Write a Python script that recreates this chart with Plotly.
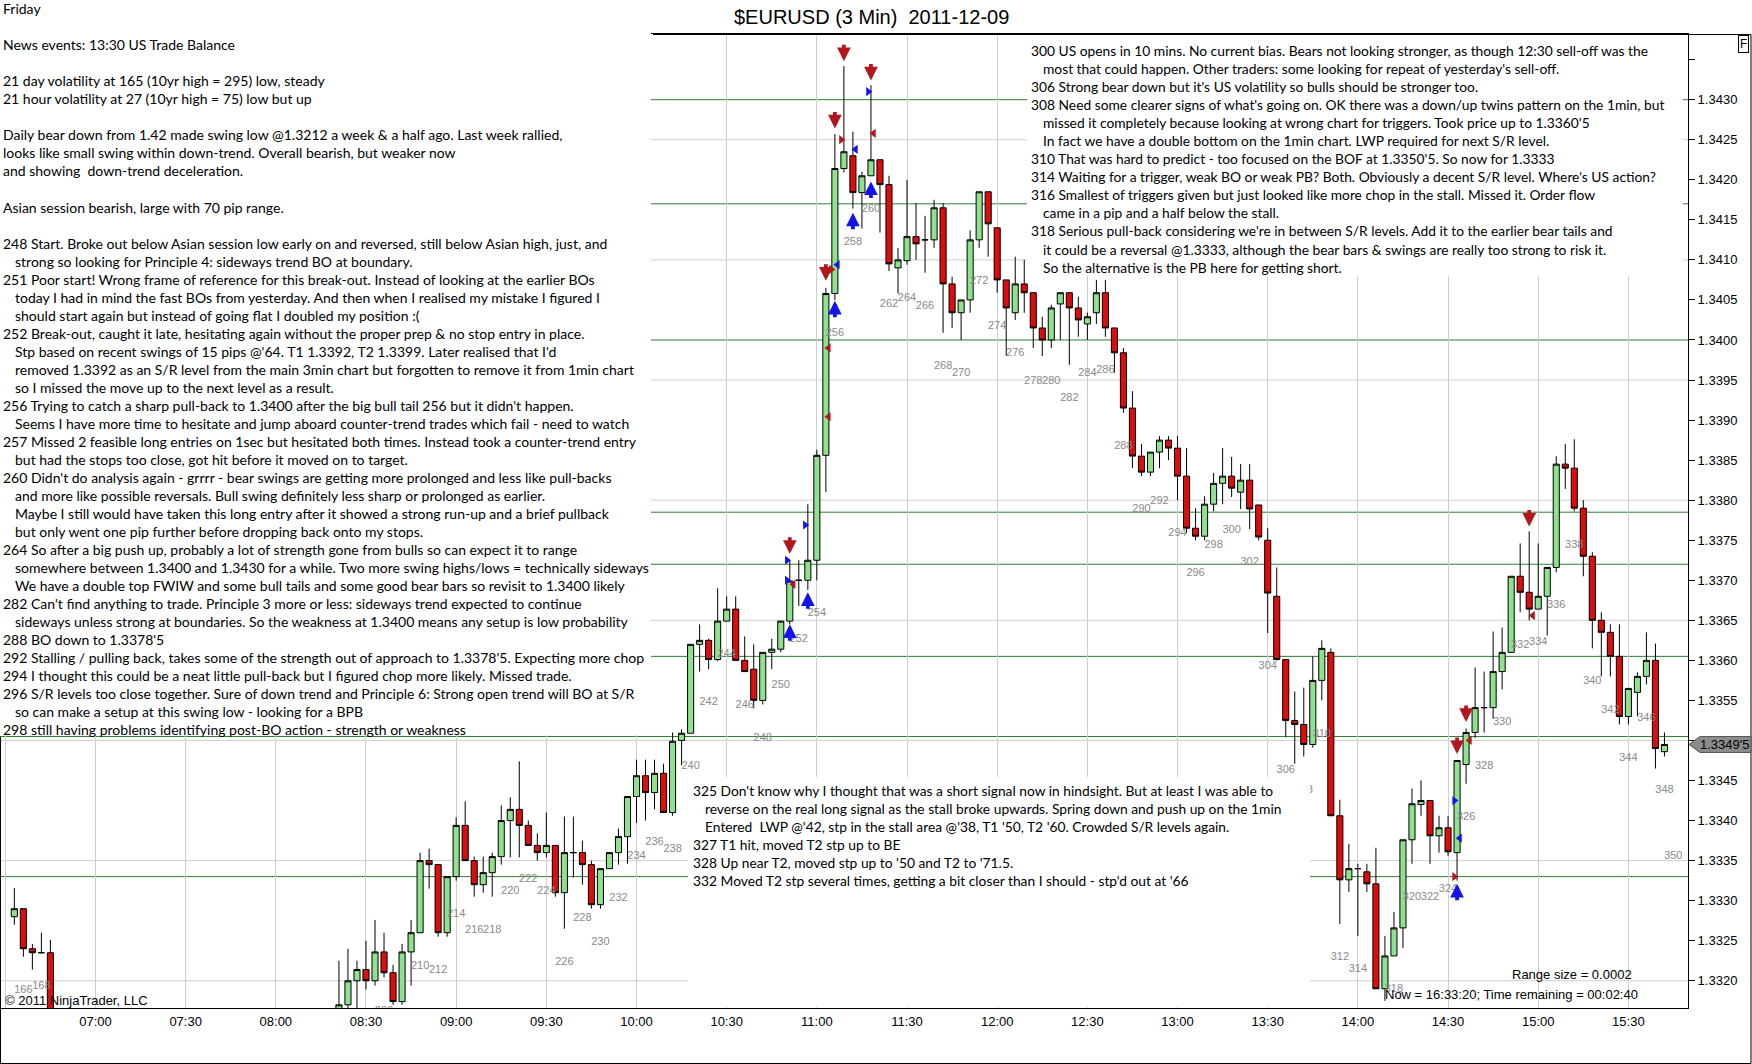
import plotly.graph_objects as go
import pandas as pd

# ---------------- data ----------------
FIRST_BAR = 165
GAP = [None] * 31   # bars 170-200 traded below the visible price window

bar_open = [1.3328, 1.3329, 1.3324, 1.33235, 1.33235] + GAP + [
    1.3315, 1.3317, 1.3320, 1.33214, 1.3320, 1.33236, 1.3321, 1.33174, 1.33236, 1.3326,
    1.3335, 1.33345, 1.3326, 1.3333, 1.33394, 1.3335, 1.3332, 1.33335, 1.33355, 1.3340,
    1.33414, 1.33394, 1.33369, 1.3336, 1.33369, 1.3331, 1.3336, 1.3336, 1.33345, 1.33295,
    1.3334, 1.3336, 1.3338, 1.3343, 1.33456, 1.33435, 1.33459, 1.3341, 1.3350, 1.33509,
    1.3362, 1.33625, 1.33601, 1.33649, 1.33664, 1.336, 1.33589, 1.3355, 1.3361, 1.33614,
    1.33649, 1.337, 1.337, 1.33725, 1.33856, 1.34058, 1.34214, 1.3423, 1.34184, 1.34205,
    1.34225, 1.34194, 1.3409, 1.34099, 1.34129, 1.34125, 1.34125, 1.34165, 1.3407, 1.34034,
    1.3405, 1.34125, 1.34185, 1.3414, 1.34075, 1.34034, 1.3407, 1.34059, 1.34015, 1.3400,
    1.34045, 1.34059, 1.3404, 1.3402, 1.34034, 1.34059, 1.34015, 1.33984, 1.33915, 1.33855,
    1.33835, 1.3386, 1.33875, 1.33865, 1.3383, 1.33765, 1.33755, 1.33795, 1.33821, 1.3383,
    1.3381, 1.33825, 1.33794, 1.3375, 1.3368, 1.33601, 1.33525, 1.3352, 1.33495, 1.33575,
    1.3361, 1.33406, 1.33326, 1.3334, 1.33336, 1.33321, 1.3319, 1.33231, 1.33266, 1.33376,
    1.3342, 1.33425, 1.33381, 1.33391, 1.3336, 1.3347, 1.3351, 1.33541, 1.33541, 1.33586,
    1.3361, 1.33705, 1.33685, 1.33664, 1.3368, 1.33716, 1.33845, 1.3384, 1.3379, 1.3373,
    1.3365, 1.33635, 1.33605, 1.3353, 1.3356, 1.3358, 1.336, 1.33486]

bar_high = [1.33316, 1.3329, 1.33246, 1.3326, 1.33251] + GAP + [
    1.33225, 1.3324, 1.33225, 1.3325, 1.33276, 1.3326, 1.3322, 1.33246, 1.33276, 1.3336,
    1.33365, 1.33345, 1.3333, 1.33404, 1.33424, 1.33355, 1.33355, 1.3336, 1.33419, 1.33429,
    1.33474, 1.3340, 1.33384, 1.3341, 1.33369, 1.33405, 1.33405, 1.33375, 1.3335, 1.3334,
    1.3336, 1.3339, 1.3343, 1.33476, 1.33476, 1.33476, 1.33471, 1.3351, 1.33514, 1.3362,
    1.33645, 1.33627, 1.3369, 1.3368, 1.3368, 1.3363, 1.3362, 1.3361, 1.33627, 1.33649,
    1.33725, 1.33725, 1.33795, 1.33863, 1.34065, 1.34257, 1.34342, 1.3426, 1.3421, 1.34318,
    1.34225, 1.34205, 1.34115, 1.3420, 1.34171, 1.34155, 1.34175, 1.34171, 1.34079, 1.3405,
    1.34137, 1.34185, 1.34185, 1.3414, 1.34075, 1.34104, 1.3410, 1.34059, 1.34029, 1.34044,
    1.34059, 1.34059, 1.34054, 1.34034, 1.34075, 1.34075, 1.34015, 1.3399, 1.33936, 1.3387,
    1.3386, 1.3388, 1.3388, 1.3388, 1.33865, 1.3379, 1.33805, 1.33834, 1.33865, 1.33854,
    1.33845, 1.33845, 1.33794, 1.33765, 1.33716, 1.33601, 1.33561, 1.33566, 1.33605, 1.33625,
    1.33615, 1.33426, 1.33371, 1.33346, 1.33346, 1.33366, 1.33256, 1.33286, 1.33376, 1.3344,
    1.3345, 1.33425, 1.33406, 1.33406, 1.33475, 1.33515, 1.33591, 1.33586, 1.33636, 1.33641,
    1.33705, 1.33746, 1.33761, 1.33746, 1.33716, 1.33855, 1.3387, 1.33876, 1.338, 1.33735,
    1.3366, 1.33645, 1.33645, 1.33565, 1.33585, 1.33635, 1.33621, 1.3351]

bar_low = [1.3327, 1.3323, 1.33214, 1.33235, 1.3305] + GAP + [
    1.3314, 1.3316, 1.3316, 1.33189, 1.33194, 1.33204, 1.3317, 1.3317, 1.33194, 1.3326,
    1.33315, 1.33255, 1.33255, 1.33325, 1.3335, 1.33305, 1.3331, 1.33305, 1.33345, 1.33354,
    1.33354, 1.33369, 1.3335, 1.33354, 1.33305, 1.33265, 1.33329, 1.3332, 1.3329, 1.3329,
    1.3334, 1.33345, 1.33346, 1.33397, 1.3340, 1.33414, 1.3341, 1.33406, 1.33469, 1.33509,
    1.33586, 1.33589, 1.33599, 1.33649, 1.336, 1.33586, 1.3354, 1.33545, 1.33589, 1.3361,
    1.33645, 1.33668, 1.33688, 1.337, 1.3381, 1.3405, 1.34209, 1.34164, 1.34139, 1.34205,
    1.34134, 1.34086, 1.34058, 1.34094, 1.3410, 1.34084, 1.34115, 1.34009, 1.34015, 1.3400,
    1.34034, 1.34115, 1.34104, 1.34059, 1.3398, 1.34025, 1.34034, 1.3399, 1.3398, 1.3399,
    1.3400, 1.33969, 1.34004, 1.3400, 1.3402, 1.34004, 1.33959, 1.33909, 1.3384, 1.3383,
    1.3383, 1.3384, 1.3385, 1.338, 1.33759, 1.3375, 1.3375, 1.33786, 1.33795, 1.33804,
    1.33789, 1.33764, 1.3375, 1.33634, 1.336, 1.33504, 1.33471, 1.3348, 1.33491, 1.3355,
    1.33406, 1.33271, 1.33311, 1.33256, 1.33311, 1.3319, 1.33175, 1.33231, 1.33241, 1.33346,
    1.33406, 1.33346, 1.3336, 1.33356, 1.33325, 1.33446, 1.33503, 1.3351, 1.33527, 1.33564,
    1.3361, 1.3366, 1.3365, 1.33664, 1.33631, 1.3371, 1.33814, 1.33786, 1.33705, 1.33615,
    1.3358, 1.3358, 1.3352, 1.3352, 1.3353, 1.3357, 1.33465, 1.3348]

bar_close = [1.3329, 1.3324, 1.33235, 1.33235, 1.3310] + GAP + [
    1.3317, 1.3320, 1.33214, 1.3320, 1.33236, 1.3321, 1.33174, 1.33236, 1.3326, 1.3335,
    1.33345, 1.3326, 1.3333, 1.33394, 1.3335, 1.3332, 1.33335, 1.33355, 1.3340, 1.33414,
    1.33394, 1.33369, 1.3336, 1.33369, 1.3331, 1.3336, 1.3336, 1.33345, 1.33295, 1.3334,
    1.3336, 1.3338, 1.3343, 1.33456, 1.33435, 1.33459, 1.3341, 1.33499, 1.33509, 1.3362,
    1.33625, 1.33601, 1.33649, 1.33664, 1.336, 1.33586, 1.3355, 1.3361, 1.33614, 1.33649,
    1.33699, 1.337, 1.33725, 1.33856, 1.34058, 1.34214, 1.34235, 1.34184, 1.34205, 1.34225,
    1.34194, 1.34095, 1.341, 1.34129, 1.3412, 1.34125, 1.34165, 1.3407, 1.34034, 1.3405,
    1.34125, 1.34185, 1.34145, 1.34075, 1.3404, 1.3407, 1.34059, 1.34015, 1.3400, 1.3404,
    1.34059, 1.3404, 1.34025, 1.34029, 1.34059, 1.34015, 1.33984, 1.33915, 1.33855, 1.33835,
    1.3386, 1.33875, 1.33865, 1.3383, 1.33765, 1.33755, 1.33795, 1.33821, 1.3383, 1.33815,
    1.33825, 1.33789, 1.33754, 1.33684, 1.33601, 1.33525, 1.3352, 1.33495, 1.33575, 1.33615,
    1.33406, 1.33326, 1.3334, 1.3334, 1.33321, 1.3319, 1.33231, 1.33266, 1.33376, 1.33421,
    1.33425, 1.33381, 1.33391, 1.33361, 1.33475, 1.3351, 1.33541, 1.33541, 1.33586, 1.3361,
    1.33705, 1.33685, 1.33664, 1.3368, 1.33716, 1.33845, 1.3384, 1.3379, 1.3373, 1.3365,
    1.33635, 1.33605, 1.3353, 1.33565, 1.3358, 1.336, 1.3349, 1.33495]

# support / resistance levels drawn on the chart
sr_levels = [1.3430, 1.3417, 1.3400, 1.33785, 1.3372, 1.33605, 1.33505, 1.3333]
# horizontal grid levels
grid_levels = [1.3320, 1.3335, 1.3350, 1.3365, 1.3380, 1.3395, 1.3410, 1.3425]
# y-axis ticks
ytick_labels = ["1.3320", "1.3325", "1.3330", "1.3335", "1.3340", "1.3345", "1.3350",
                "1.3355", "1.3360", "1.3365", "1.3370", "1.3375", "1.3380", "1.3385",
                "1.3390", "1.3395", "1.3400", "1.3405", "1.3410", "1.3415", "1.3420",
                "1.3425", "1.3430", "1.3435"]
ytick_hidden = ["1.3350", "1.3435"]
last_price = 1.33495
last_price_text = "1.3349'5"

# trade markers (bar number, price)
down_arrow_bar = [251, 255, 256, 257, 260, 325, 326, 333]
down_arrow_px = [1.33743, 1.34084, 1.34274, 1.34358, 1.34334, 1.33493, 1.33533, 1.33777]
up_arrow_bar = [251, 253, 256, 258, 260, 325]
up_arrow_px = [1.33635, 1.33675, 1.34039, 1.34149, 1.34188, 1.33311]
blue_right_bar = [250.7, 250.7, 252.7, 259.7, 324.7]
blue_right_px = [1.33725, 1.3370, 1.33769, 1.3431, 1.33425]
blue_left_bar = [256.3, 258.3, 325.3]
blue_left_px = [1.34094, 1.34238, 1.33378]
red_left_bar = [251.4, 255.3, 255.3, 260.3, 326.4, 333.4]
red_left_px = [1.33695, 1.3399, 1.33904, 1.34258, 1.3350, 1.33656]
red_right_bar = [255.6, 256.7, 324.7]
red_right_px = [1.34088, 1.3425, 1.3333]

extra_label_bar = [350]
extra_label_px = [1.33356]

x_tick_start, x_tick_step_min = "2011-12-09 07:00", 30
x_range = ["2011-12-09 06:28:14", "2011-12-09 15:49:50"]
y_range = [1.33166, 1.34382]

left_notes = [
    "Friday", "",
    "News events: 13:30 US Trade Balance", "",
    "21 day volatility at 165 (10yr high = 295) low, steady",
    "21 hour volatility at 27 (10yr high = 75) low but up", "",
    "Daily bear down from 1.42 made swing low @1.3212 a week & a half ago. Last week rallied,",
    "looks like small swing within down-trend. Overall bearish, but weaker now",
    "and showing  down-trend deceleration.", "",
    "Asian session bearish, large with 70 pip range.", "",
    "248 Start. Broke out below Asian session low early on and reversed, still below Asian high, just, and",
    "  strong so looking for Principle 4: sideways trend BO at boundary.",
    "251 Poor start! Wrong frame of reference for this break-out. Instead of looking at the earlier BOs",
    "  today I had in mind the fast BOs from yesterday. And then when I realised my mistake I figured I",
    "  should start again but instead of going flat I doubled my position :(",
    "252 Break-out, caught it late, hesitating again without the proper prep & no stop entry in place.",
    "  Stp based on recent swings of 15 pips @'64. T1 1.3392, T2 1.3399. Later realised that I'd",
    "  removed 1.3392 as an S/R level from the main 3min chart but forgotten to remove it from 1min chart",
    "  so I missed the move up to the next level as a result.",
    "256 Trying to catch a sharp pull-back to 1.3400 after the big bull tail 256 but it didn't happen.",
    "  Seems I have more time to hesitate and jump aboard counter-trend trades which fail - need to watch",
    "257 Missed 2 feasible long entries on 1sec but hesitated both times. Instead took a counter-trend entry",
    "  but had the stops too close, got hit before it moved on to target.",
    "260 Didn't do analysis again - grrrr - bear swings are getting more prolonged and less like pull-backs",
    "  and more like possible reversals. Bull swing definitely less sharp or prolonged as earlier.",
    "  Maybe I still would have taken this long entry after it showed a strong run-up and a brief pullback",
    "  but only went one pip further before dropping back onto my stops.",
    "264 So after a big push up, probably a lot of strength gone from bulls so can expect it to range",
    "  somewhere between 1.3400 and 1.3430 for a while. Two more swing highs/lows = technically sideways",
    "  We have a double top FWIW and some bull tails and some good bear bars so revisit to 1.3400 likely",
    "282 Can't find anything to trade. Principle 3 more or less: sideways trend expected to continue",
    "  sideways unless strong at boundaries. So the weakness at 1.3400 means any setup is low probability",
    "288 BO down to 1.3378'5",
    "292 Stalling / pulling back, takes some of the strength out of approach to 1.3378'5. Expecting more chop",
    "294 I thought this could be a neat little pull-back but I figured chop more likely. Missed trade.",
    "296 S/R levels too close together. Sure of down trend and Principle 6: Strong open trend will BO at S/R",
    "  so can make a setup at this swing low - looking for a BPB",
    "298 still having problems identifying post-BO action - strength or weakness",
]

top_notes = [
    "300 US opens in 10 mins. No current bias. Bears not looking stronger, as though 12:30 sell-off was the",
    "  most that could happen. Other traders: some looking for repeat of yesterday's sell-off.",
    "306 Strong bear down but it's US volatility so bulls should be stronger too.",
    "308 Need some clearer signs of what's going on. OK there was a down/up twins pattern on the 1min, but",
    "  missed it completely because looking at wrong chart for triggers. Took price up to 1.3360'5",
    "  In fact we have a double bottom on the 1min chart. LWP required for next S/R level.",
    "310 That was hard to predict - too focused on the BOF at 1.3350'5. So now for 1.3333",
    "314 Waiting for a trigger, weak BO or weak PB? Both. Obviously a decent S/R level. Where's US action?",
    "316 Smallest of triggers given but just looked like more chop in the stall. Missed it. Order flow",
    "  came in a pip and a half below the stall.",
    "318 Serious pull-back considering we're in between S/R levels. Add it to the earlier bear tails and",
    "  it could be a reversal @1.3333, although the bear bars & swings are really too strong to risk it.",
    "  So the alternative is the PB here for getting short.",
]

mid_notes = [
    "325 Don't know why I thought that was a short signal now in hindsight. But at least I was able to",
    "  reverse on the real long signal as the stall broke upwards. Spring down and push up on the 1min",
    "  Entered  LWP @'42, stp in the stall area @'38, T1 '50, T2 '60. Crowded S/R levels again.",
    "327 T1 hit, moved T2 stp up to BE",
    "328 Up near T2, moved stp up to '50 and T2 to '71.5.",
    "332 Moved T2 stp several times, getting a bit closer than I should - stp'd out at '66",
]

title_text = "$EURUSD (3 Min)  2011-12-09"
copyright_text = "\u00a9 2011 NinjaTrader, LLC"
range_text = "Range size = 0.0002"
now_text = "Now = 16:33:20; Time remaining = 00:02:40"

# ---------------- layout geometry ----------------
W, H = 1752, 1064
PL, PR, PT, PB = 0, 1688, 34, 1008
PW, PH = PR - PL, PB - PT


def xp(px):
    return (px - PL) / PW


def yp(py):
    return (PB - py) / PH


BASE = pd.Timestamp("2011-12-09 11:00")
BASE_BAR = 254


def bar_time(n):
    return BASE + pd.Timedelta(minutes=3 * (n - BASE_BAR))


bars = list(range(FIRST_BAR, FIRST_BAR + len(bar_open)))
valid = [i for i, o in enumerate(bar_open) if o is not None]

FONT_TXT = "Lato"
FONT_UI = "Liberation Sans, Arial, sans-serif"
GREEN_SR = "#2f7d2f"
GRID = "#cfcfcf"
RED_MK = "#b3161c"
BLUE_MK = "#1414e6"

fig = go.Figure()

fig.add_trace(go.Candlestick(
    x=[bar_time(bars[i]) for i in valid],
    open=[bar_open[i] for i in valid],
    high=[bar_high[i] for i in valid],
    low=[bar_low[i] for i in valid],
    close=[bar_close[i] for i in valid],
    increasing=dict(fillcolor="#8fe08f", line=dict(color="black", width=1)),
    decreasing=dict(fillcolor="#dd0d0d", line=dict(color="black", width=1)),
    whiskerwidth=0, hoverinfo="skip", showlegend=False,
))

# bar number labels (even bars), below the bar low
lab_idx = [i for i in valid if bars[i] % 2 == 0]
fig.add_trace(go.Scatter(
    x=[bar_time(bars[i]) for i in lab_idx],
    y=[bar_low[i] for i in lab_idx],
    text=[str(bars[i]) for i in lab_idx],
    mode="markers+text", textposition="bottom center",
    marker=dict(size=43, color="rgba(0,0,0,0)"),
    textfont=dict(family=FONT_UI, size=11, color="#8a8a8a"),
    hoverinfo="skip", showlegend=False, cliponaxis=True,
))
fig.add_trace(go.Scatter(
    x=[bar_time(b) for b in extra_label_bar], y=extra_label_px,
    text=[str(b) for b in extra_label_bar], mode="text",
    textposition="middle left",
    textfont=dict(family=FONT_UI, size=11, color="#8a8a8a"),
    hoverinfo="skip", showlegend=False, cliponaxis=False,
))

# entry / exit triangles
for bl, pl, sym, col in [
    (blue_right_bar, blue_right_px, "triangle-right", BLUE_MK),
    (blue_left_bar, blue_left_px, "triangle-left", BLUE_MK),
    (red_left_bar, red_left_px, "triangle-left", RED_MK),
    (red_right_bar, red_right_px, "triangle-right", RED_MK),
]:
    fig.add_trace(go.Scatter(
        x=[bar_time(b) for b in bl], y=pl, mode="markers",
        marker=dict(symbol=sym, size=8, color=col, line=dict(width=0)),
        hoverinfo="skip", showlegend=False,
    ))

shapes = []
for g in grid_levels:
    shapes.append(dict(type="line", xref="paper", x0=0, x1=1, yref="y", y0=g, y1=g,
                       line=dict(color=GRID, width=1), layer="below"))
for s in sr_levels:
    shapes.append(dict(type="line", xref="paper", x0=0, x1=1, yref="y", y0=s, y1=s,
                       line=dict(color=GREEN_SR, width=1), layer="below"))

# white note panels
for (x0, y0, x1, y1) in [(0, -2, 651, 735), (1027, 35, 1683, 276), (688, 777, 1310, 1007)]:
    shapes.append(dict(type="rect", xref="paper", yref="paper",
                       x0=xp(x0), x1=xp(x1), y0=yp(y1), y1=yp(y0),
                       fillcolor="white", line=dict(width=0), layer="above"))

# outer frame
frame = [((653, 34.5), (1751, 34.5)), ((1751, 34.5), (1751, 1063.5)),
         ((0, 1063.5), (1751, 1063.5)), ((0.5, 737), (0.5, 1063.5))]
for (a, b) in frame:
    shapes.append(dict(type="line", xref="paper", yref="paper",
                       x0=xp(a[0]), y0=yp(a[1]), x1=xp(b[0]), y1=yp(b[1]),
                       line=dict(color="black", width=1), layer="above"))

# last price tag
lp_py = PB - (last_price - y_range[0]) / (y_range[1] - y_range[0]) * PH
shapes.append(dict(type="path", xref="paper", yref="paper",
                   xsizemode="pixel", ysizemode="pixel",
                   xanchor=xp(PR + 1), yanchor=yp(lp_py),
                   path="M0,0 L11,8 L62,8 L62,-8 L11,-8 Z",
                   fillcolor="#8c8c8c", line=dict(color="#555555", width=1), layer="above"))

annotations = []


def add_lines(lines, x0, y0, step, indent, size):
    for k, ln in enumerate(lines):
        if not ln:
            continue
        ind = ln.startswith("  ")
        annotations.append(dict(
            xref="paper", yref="paper", x=xp(x0 + (indent if ind else 0)), y=yp(y0 + k * step),
            text=ln.strip(), showarrow=False, xanchor="left", yanchor="middle",
            font=dict(family=FONT_TXT, size=size, color="black")))


add_lines(left_notes, 1, 9, 18.0, 12, 14.0)
add_lines(top_notes, 1029, 50, 18.1, 12, 13.8)
add_lines(mid_notes, 691, 790, 18.0, 12, 13.8)

# arrows
for b, p in zip(down_arrow_bar, down_arrow_px):
    annotations.append(dict(x=bar_time(b), y=p, xref="x", yref="y", text="",
                            showarrow=True, arrowhead=2, arrowsize=0.72, arrowwidth=3.8,
                            arrowcolor=RED_MK, ax=0, ay=-18, yshift=-8, standoff=0))
for b, p in zip(up_arrow_bar, up_arrow_px):
    annotations.append(dict(x=bar_time(b), y=p, xref="x", yref="y", text="",
                            showarrow=True, arrowhead=2, arrowsize=0.72, arrowwidth=3.8,
                            arrowcolor=BLUE_MK, ax=0, ay=18, yshift=8, standoff=0))

annotations += [
    dict(xref="paper", yref="paper", x=xp(871), y=yp(17), text=title_text, showarrow=False,
         xanchor="center", yanchor="middle", font=dict(family=FONT_UI, size=20, color="black")),
    dict(xref="paper", yref="paper", x=xp(3), y=yp(1000), text=copyright_text, showarrow=False,
         xanchor="left", yanchor="middle", font=dict(family=FONT_UI, size=13, color="black")),
    dict(xref="paper", yref="paper", x=xp(1634), y=yp(974), text=range_text, showarrow=False,
         xanchor="right", yanchor="middle", font=dict(family=FONT_UI, size=13, color="black")),
    dict(xref="paper", yref="paper", x=xp(1640), y=yp(994), text=now_text, showarrow=False,
         xanchor="right", yanchor="middle", font=dict(family=FONT_UI, size=13, color="black")),
    dict(xref="paper", yref="paper", x=xp(1743), y=yp(44), text="F", showarrow=False,
         xanchor="center", yanchor="middle", bordercolor="black", borderwidth=1, borderpad=1,
         font=dict(family=FONT_UI, size=12, color="black")),
    dict(xref="paper", yref="y", x=xp(1724), y=last_price, text=last_price_text, showarrow=False,
         xanchor="center", yanchor="middle", font=dict(family=FONT_UI, size=13, color="black")),
]

ytick_vals = [float(t) for t in ytick_labels]
ytick_text = ["" if t in ytick_hidden else t for t in ytick_labels]

fig.update_layout(
    width=W, height=H, autosize=False,
    margin=dict(l=PL, r=W - PR, t=PT, b=H - PB, pad=0),
    paper_bgcolor="white", plot_bgcolor="white",
    showlegend=False, hovermode=False,
    boxgap=0.25, boxgroupgap=0.1,
    shapes=shapes, annotations=annotations,
    xaxis=dict(type="date", range=x_range, rangeslider=dict(visible=False),
               tick0=x_tick_start, dtick=x_tick_step_min * 60 * 1000, tickformat="%H:%M",
               showgrid=True, gridcolor=GRID, gridwidth=1, ticks="",
               ticklabelstandoff=1,
               showline=True, linecolor="black", linewidth=1, mirror=True,
               tickfont=dict(family=FONT_UI, size=13, color="black"), zeroline=False),
    yaxis=dict(range=y_range, side="right", tickvals=ytick_vals, ticktext=ytick_text,
               ticks="outside", ticklen=6, tickcolor="black", tickwidth=1,
               showgrid=False, zeroline=False, showline=True, linecolor="black",
               linewidth=1, mirror=True,
               tickfont=dict(family=FONT_UI, size=13, color="black")),
)

fig.write_html(
    "out.html",
    config={"displayModeBar": False},
    post_script="document.body.style.margin='0';document.body.style.overflow='hidden';",
)
